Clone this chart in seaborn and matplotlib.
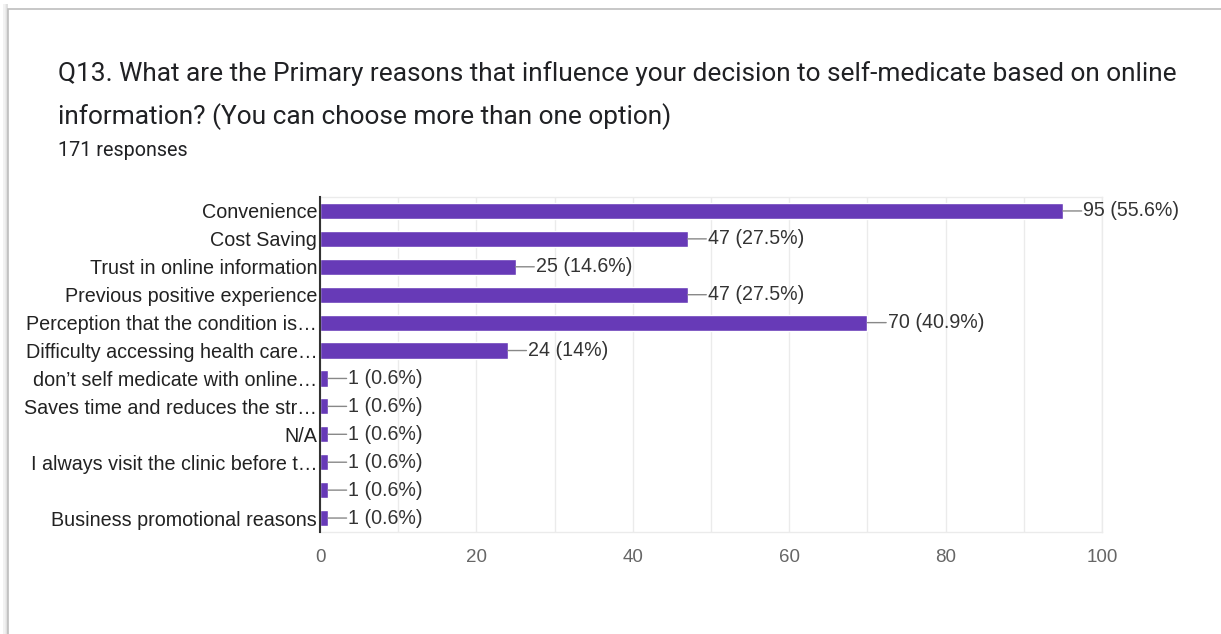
import matplotlib
matplotlib.use("Agg")
import matplotlib.pyplot as plt
import matplotlib.patches as mpatches
import seaborn as sns
import pandas as pd

# Survey answers (multiple choice allowed)
categories = [
    "Convenience",
    "Cost Saving",
    "Trust in online information",
    "Previous positive experience",
    "Perception that the condition is…",
    "Difficulty accessing health care…",
    "don’t self medicate with online…",
    "Saves time and reduces the str…",
    "N/A",
    "I always visit the clinic before t…",
    "",
    "Business promotional reasons",
]
counts = [95, 47, 25, 47, 70, 24, 1, 1, 1, 1, 1, 1]
percents = ["55.6%", "27.5%", "14.6%", "27.5%", "40.9%", "14%",
            "0.6%", "0.6%", "0.6%", "0.6%", "0.6%", "0.6%"]
x_ticks = [0, 20, 40, 60, 80, 100]

title_text = ("Q13. What are the Primary reasons that influence your decision to self-medicate based on online\n"
              "information? (You can choose more than one option)")
subtitle_text = "171 responses"

BAR = "#673ab7"
TEXT = "#202124"
LABEL = "#222222"
TICK = "#666666"
GRID = "#ebebeb"

sns.set_style("white")
plt.rcParams["font.family"] = ["Liberation Sans", "DejaVu Sans"]

df = pd.DataFrame({"reason": categories, "count": counts})

fig = plt.figure(figsize=(12.21, 6.34), dpi=100)
fig.patch.set_facecolor("white")

# card frame with soft shadow, kept behind the chart
for i, a in enumerate([0.05, 0.08, 0.12]):
    fig.add_artist(mpatches.Rectangle((3 + i * 1.5, -10), 1.5, 640, transform=None,
                                      facecolor="black", alpha=a, edgecolor="none",
                                      zorder=-3))
fig.add_artist(mpatches.Rectangle((8.0 / 1221, -0.05), 1.2, 1.05 - 9.0 / 634,
                                  transform=fig.transFigure, facecolor="white",
                                  edgecolor="#bdbdbd", linewidth=1.2, zorder=-2))

ax = fig.add_axes([320 / 1221, 1 - 532 / 634, (1102 - 320) / 1221, (532 - 197) / 634])
ax.patch.set_alpha(0)
sns.barplot(data=df, y="reason", x="count", orient="h", color=BAR, saturation=1,
            width=0.58, ax=ax, order=categories)

ax.set_xlim(0, 100)
ax.set_ylim(len(categories) - 0.5, -0.5)
ax.set_xticks(x_ticks)
ax.set_xticks(range(10, 100, 20), minor=True)
ax.set_xlabel("")
ax.set_ylabel("")
ax.grid(axis="x", which="both", color=GRID, linewidth=1)
ax.set_axisbelow(True)
for side in ["top", "right", "bottom"]:
    ax.spines[side].set_color(GRID)
    ax.spines[side].set_linewidth(1)
ax.spines["left"].set_color("#333333")
ax.spines["left"].set_linewidth(1.5)
ax.spines["left"].set_zorder(5)
ax.tick_params(axis="y", length=0, pad=2, labelsize=14.2, labelcolor=LABEL)
ax.tick_params(axis="x", which="both", length=0, pad=12, labelsize=13.5, labelcolor=TICK)

for i, (c, p) in enumerate(zip(counts, percents)):
    ax.annotate("", xy=(c, i), xytext=(13.5, 0), textcoords="offset points",
                arrowprops=dict(arrowstyle="-", color="#888888", lw=1, shrinkA=0, shrinkB=0))
    ax.annotate(f"{c} ({p})", xy=(c, i), xytext=(14.5, 0), textcoords="offset points",
                ha="left", va="center", fontsize=14.1, color="#333333")

fig.text(58 / 1221, 1 - 95.5 / 634, title_text, family=["Roboto", "DejaVu Sans"],
         fontsize=18.9, color=TEXT, ha="left", va="center", linespacing=1.78)
fig.text(58 / 1221, 1 - 150 / 634, subtitle_text, family=["Roboto", "DejaVu Sans"],
         fontsize=14.2, color=TEXT, ha="left", va="center")

fig.savefig("out.png", dpi=100)
